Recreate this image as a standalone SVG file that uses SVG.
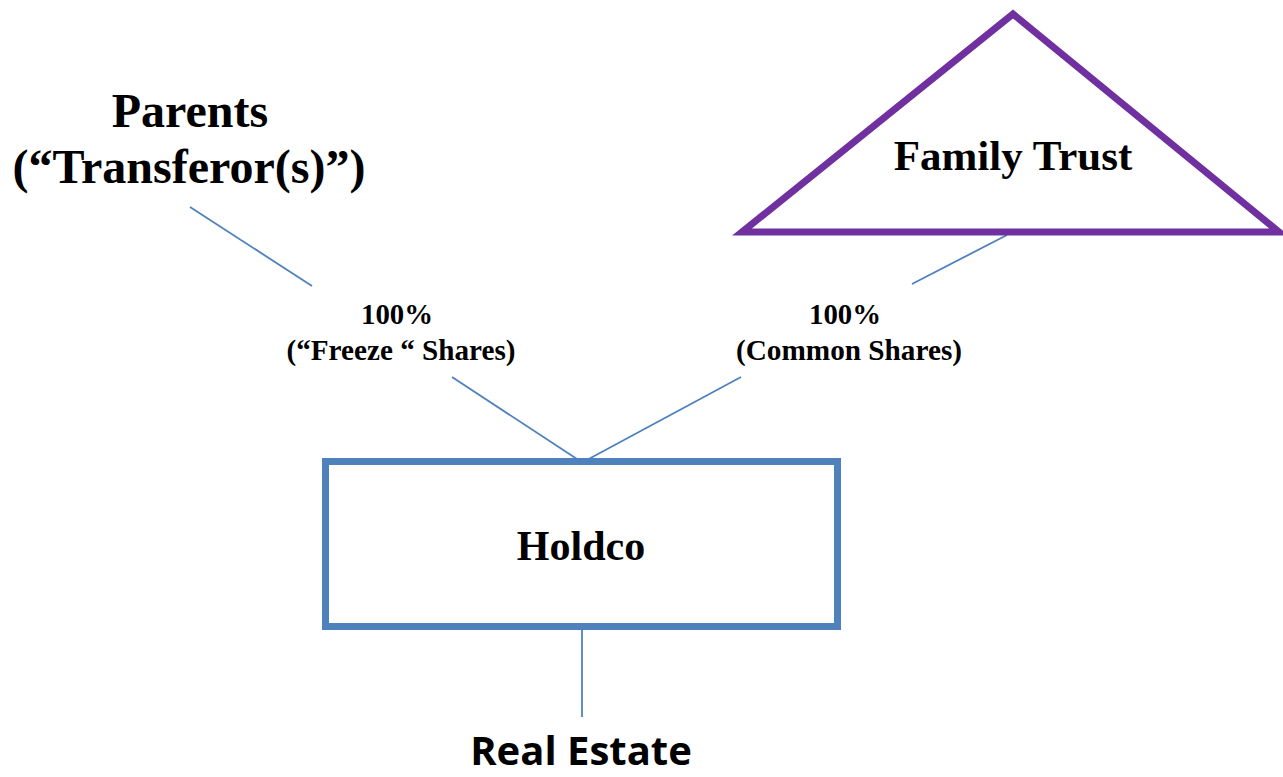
<svg xmlns="http://www.w3.org/2000/svg" width="1283" height="777" viewBox="0 0 1283 777">
  <style>
    .serif { font-family: "Liberation Serif", "Times New Roman", serif; font-weight: bold; fill: #000; text-anchor: middle; }
    .sans { font-family: "Open Sans", "Liberation Sans", sans-serif; font-weight: bold; fill: #000; text-anchor: middle; }
    .link { stroke: #4F81BD; stroke-width: 1.8; fill: none; }
  </style>
  <rect width="1283" height="777" fill="#fff"/>

  <g id="connectors">
    <line class="link" x1="190" y1="207" x2="312" y2="286"/>
    <line class="link" x1="452" y1="377" x2="580" y2="461"/>
    <line class="link" x1="1007" y1="235" x2="912" y2="284"/>
    <line class="link" x1="741" y1="377" x2="585" y2="461"/>
    <line class="link" x1="582" y1="628" x2="582" y2="717" stroke-width="2.2"/>
  </g>

  <g id="parents">
    <text class="serif" x="190" y="127" font-size="48">Parents</text>
    <text class="serif" x="189" y="183" font-size="48">(“Transferor(s)”)</text>
  </g>

  <g id="family-trust">
    <polygon points="1013,14 742,232 1279,232" fill="#fff" stroke="#7030A0" stroke-width="7" stroke-linejoin="miter"/>
    <text class="serif" x="1013" y="170" font-size="43">Family Trust</text>
  </g>

  <g id="label-freeze">
    <text class="serif" x="397" y="324" font-size="29" textLength="72" lengthAdjust="spacingAndGlyphs">100%</text>
    <text class="serif" x="401" y="360" font-size="29" textLength="229" lengthAdjust="spacingAndGlyphs">(“Freeze “ Shares)</text>
  </g>

  <g id="label-common">
    <text class="serif" x="845" y="324" font-size="29" textLength="72" lengthAdjust="spacingAndGlyphs">100%</text>
    <text class="serif" x="849" y="360" font-size="29" textLength="226" lengthAdjust="spacingAndGlyphs">(Common Shares)</text>
  </g>

  <g id="holdco">
    <rect x="325.5" y="461.5" width="512" height="165" fill="#fff" stroke="#4F81BD" stroke-width="7"/>
    <text class="serif" x="581" y="560" font-size="42">Holdco</text>
  </g>

  <g id="real-estate">
    <text class="sans" x="581" y="765" font-size="40">Real Estate</text>
  </g>
</svg>
